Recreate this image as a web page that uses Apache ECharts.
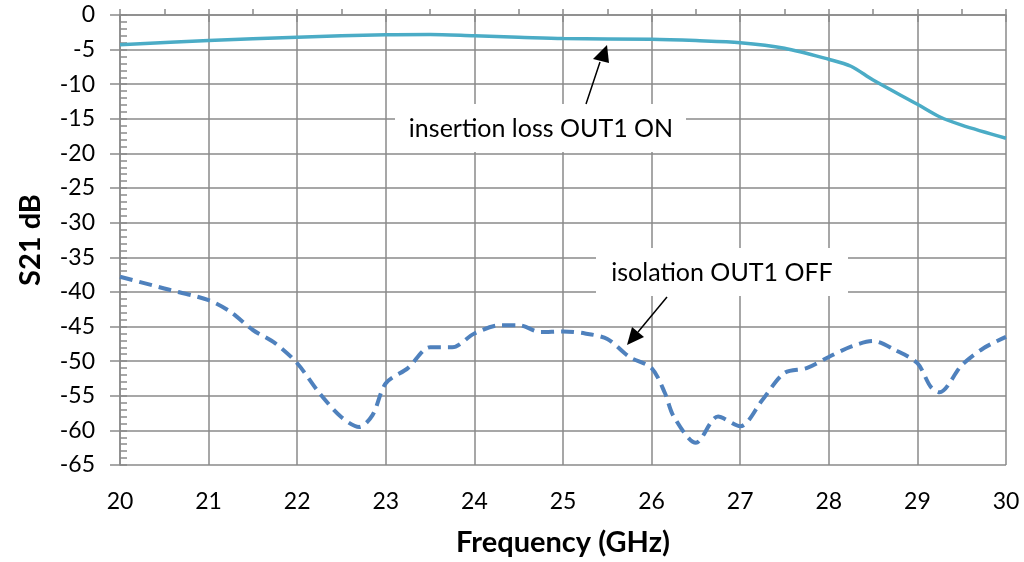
<!DOCTYPE html>
<html>
<head>
<meta charset="utf-8">
<script src="https://cdn.jsdelivr.net/npm/echarts@6/dist/echarts.min.js"></script>
<style>html,body{margin:0;padding:0;background:#fff}#c{width:1024px;height:562px}</style>
</head>
<body>
<div id="c"></div>
<script>
// Insertion loss (OUT1 ON)
const ilFreq = [20, 21, 22, 23, 23.5, 24, 24.5, 25, 26, 26.5, 27, 27.5, 28, 28.25, 28.5, 29, 29.25, 29.5, 30];
const ilVal  = [-4.3, -3.7, -3.2, -2.85, -2.8, -3.0, -3.2, -3.4, -3.5, -3.7, -4.0, -4.8, -6.4, -7.4, -9.4, -12.9, -14.7, -15.9, -17.8];
// Isolation (OUT1 OFF)
const isoFreq = [20, 20.5, 21, 21.25, 21.5, 21.75, 22, 22.25, 22.5, 22.7, 22.85, 23, 23.25, 23.5, 23.75, 24, 24.3, 24.5, 24.75,
                 25, 25.25, 25.5, 25.75, 26, 26.15, 26.25, 26.5, 26.75, 27, 27.25, 27.5, 27.75, 28, 28.25, 28.5, 28.75, 29, 29.15, 29.25, 29.5, 29.75, 30];
const isoVal  = [-37.8, -39.5, -41.2, -42.9, -45.5, -47.4, -50.3, -54.6, -58.1, -59.5, -57.8, -53.2, -51.0, -48.0, -48.0, -46.0, -44.8, -44.8, -45.8,
                 -45.7, -46.0, -46.8, -49.4, -51.0, -54.6, -58.0, -61.8, -58.0, -59.4, -55.6, -51.7, -51.0, -49.4, -47.9, -47.1, -48.4, -50.3, -53.7, -54.5, -50.6, -48.1, -46.5];
const xTicks = [20, 21, 22, 23, 24, 25, 26, 27, 28, 29, 30];
const yTicks = [0, -5, -10, -15, -20, -25, -30, -35, -40, -45, -50, -55, -60, -65];
const labelIL = 'insertion loss OUT1 ON';
const labelISO = 'isolation OUT1 OFF';

const FONT = 'Lato, "Open Sans", sans-serif';
const GRID = '#8a8a8a';
const chart = echarts.init(document.getElementById('c'));
const zip = (a, b) => a.map((v, i) => [v, b[i]]);

chart.setOption({
  animation: false,
  grid: { left: 120, right: 18, top: 15, bottom: 97 },
  xAxis: [{
    type: 'value', min: xTicks[0], max: xTicks[xTicks.length - 1], interval: 1,
    name: 'Frequency (GHz)', nameLocation: 'middle', nameGap: 63,
    nameTextStyle: { fontFamily: FONT, fontSize: 29, fontWeight: 'bold', color: '#000' },
    axisLine: { lineStyle: { color: GRID, width: 1.5 } },
    axisTick: { length: 7, lineStyle: { color: GRID, width: 1.5 } },
    axisLabel: { fontFamily: FONT, fontSize: 23, color: '#000', margin: 25 },
    splitLine: { show: true, lineStyle: { color: GRID, width: 1.5 } }
  }, {
    type: 'value', min: xTicks[0], max: xTicks[xTicks.length - 1], interval: 0.5, position: 'bottom',
    axisLine: { show: false }, axisLabel: { show: false }, splitLine: { show: false },
    axisTick: { inside: true, length: 6, lineStyle: { color: GRID, width: 1.5 } }
  }],
  yAxis: [{
    type: 'value', min: yTicks[yTicks.length - 1], max: yTicks[0], interval: 5,
    name: 'S21 dB', nameLocation: 'middle', nameGap: 75,
    nameTextStyle: { fontFamily: FONT, fontSize: 29, fontWeight: 'bold', color: '#000' },
    axisLine: { show: true, lineStyle: { color: GRID, width: 1.5 } },
    axisTick: { show: true, length: 10, lineStyle: { color: GRID, width: 1.5 } },
    axisLabel: { fontFamily: FONT, fontSize: 23, color: '#000', margin: 25 },
    splitLine: { show: true, lineStyle: { color: GRID, width: 1.5 } }
  }, {
    type: 'value', min: yTicks[yTicks.length - 1], max: yTicks[0], interval: 1, position: 'left',
    axisLine: { show: false }, axisLabel: { show: false }, splitLine: { show: false },
    axisTick: { show: true, inside: true, length: 7, lineStyle: { color: GRID, width: 1.5 } }
  }],
  series: [{
    type: 'line', name: labelIL, data: zip(ilFreq, ilVal), smooth: 0.3, showSymbol: false,
    lineStyle: { color: '#4bacc6', width: 3.5 }, z: 3
  }, {
    type: 'line', name: labelISO, data: zip(isoFreq, isoVal), smooth: 0.3, showSymbol: false,
    lineStyle: { color: '#4f81bd', width: 4, type: [13, 7] }, z: 3
  }],
  graphic: [
    { type: 'rect', shape: { x: 395, y: 104, width: 291, height: 48 }, style: { fill: '#fff' }, z: 10 },
    { type: 'text', x: 541, y: 129, style: { text: labelIL, fontFamily: FONT, fontSize: 25, fill: '#000', align: 'center', verticalAlign: 'middle' }, z: 11 },
    { type: 'rect', shape: { x: 596, y: 248, width: 252, height: 48 }, style: { fill: '#fff' }, z: 10 },
    { type: 'text', x: 722, y: 273, style: { text: labelISO, fontFamily: FONT, fontSize: 25, fill: '#000', align: 'center', verticalAlign: 'middle' }, z: 11 },
    { type: 'line', shape: { x1: 586, y1: 104, x2: 600, y2: 62 }, style: { stroke: '#000', lineWidth: 1.5 }, z: 11 },
    { type: 'polygon', shape: { points: [[607, 45], [593, 59], [609, 63]] }, style: { fill: '#000' }, z: 11 },
    { type: 'line', shape: { x1: 667, y1: 297, x2: 638, y2: 332 }, style: { stroke: '#000', lineWidth: 1.5 }, z: 11 },
    { type: 'polygon', shape: { points: [[627, 345], [632, 327], [644, 337]] }, style: { fill: '#000' }, z: 11 }
  ]
});
</script>
</body>
</html>
